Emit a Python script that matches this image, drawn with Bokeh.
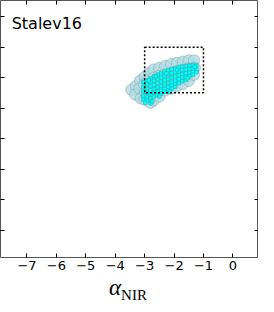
from bokeh.plotting import figure
from bokeh.models import FixedTicker, LinearAxis, Label, Div
from bokeh.layouts import column
from bokeh.embed import file_html
from bokeh.resources import INLINE

# ---- data ----
x_ticks = [-7, -6, -5, -4, -3, -2, -1, 0]
x_tick_labels = ["−7", "−6", "−5", "−4", "−3", "−2", "−1", "0"]
y_ticks = [-7, -6, -5, -4, -3, -2, -1, 0]

# outer (light blue) cloud of sources
env_x = [-3.45,
         -3.3, -3.32,
         -3.15, -3.17, -3.13,
         -3.0, -3.02, -2.98, -3.0,
         -2.85, -2.87, -2.83, -2.86, -2.8,
         -2.7, -2.68, -2.72, -2.67, -2.7,
         -2.5, -2.52, -2.48, -2.53, -2.5,
         -2.3, -2.32, -2.28, -2.31,
         -2.1, -2.12, -2.08, -2.1,
         -1.9, -1.92, -1.88, -1.91,
         -1.7, -1.72, -1.68, -1.7,
         -1.5, -1.52, -1.48, -1.5,
         -1.32, -1.3, -1.33]
env_y = [-2.4,
         -2.28, -2.55,
         -2.1, -2.36, -2.68,
         -1.98, -2.22, -2.47, -2.72,
         -1.85, -2.1, -2.38, -2.62, -2.82,
         -1.74, -2.0, -2.25, -2.5, -2.74,
         -1.68, -1.95, -2.2, -2.45, -2.62,
         -1.62, -1.9, -2.15, -2.42,
         -1.56, -1.85, -2.1, -2.36,
         -1.52, -1.8, -2.05, -2.27,
         -1.48, -1.75, -2.0, -2.2,
         -1.44, -1.7, -1.95, -2.1,
         -1.44, -1.68, -1.9]

# inner (cyan) core of sources
core_x = [-3.05, -3.05, -3.05, -3.05, -3.05,
          -2.92, -2.92, -2.92, -2.92, -2.92, -2.92,
          -2.8, -2.8, -2.8, -2.8, -2.8, -2.8, -2.8,
          -2.68, -2.68, -2.68, -2.68, -2.68, -2.68,
          -2.56, -2.56, -2.56, -2.56, -2.56, -2.56,
          -2.44, -2.44, -2.44, -2.44, -2.44, -2.44,
          -2.32, -2.32, -2.32, -2.32, -2.32, -2.32,
          -2.2, -2.2, -2.2, -2.2, -2.2, -2.2,
          -2.08, -2.08, -2.08, -2.08, -2.08, -2.08,
          -1.96, -1.96, -1.96, -1.96, -1.96, -1.96,
          -1.84, -1.84, -1.84, -1.84, -1.84,
          -1.72, -1.72, -1.72, -1.72, -1.72,
          -1.6, -1.6, -1.6, -1.6, -1.6,
          -1.48, -1.48, -1.48, -1.48,
          -1.36, -1.36, -1.36, -1.36,
          -1.24, -1.24, -1.24,
          -2.98, -2.74, -2.86, -2.5, -2.26, -1.9, -1.54, -1.3, -2.62, -2.14]
core_y = [-2.15, -2.3, -2.45, -2.6, -2.72,
          -2.1, -2.22, -2.36, -2.5, -2.62, -2.75,
          -2.02, -2.15, -2.28, -2.42, -2.55, -2.68, -2.84,
          -1.96, -2.1, -2.24, -2.38, -2.5, -2.62,
          -1.9, -2.04, -2.18, -2.32, -2.45, -2.56,
          -1.86, -2.0, -2.14, -2.28, -2.4, -2.52,
          -1.8, -1.94, -2.08, -2.22, -2.36, -2.46,
          -1.76, -1.9, -2.04, -2.18, -2.3, -2.42,
          -1.72, -1.86, -2.0, -2.14, -2.26, -2.36,
          -1.7, -1.82, -1.96, -2.1, -2.22, -2.3,
          -1.66, -1.8, -1.92, -2.05, -2.18,
          -1.64, -1.76, -1.88, -2.0, -2.12,
          -1.62, -1.74, -1.86, -1.98, -2.08,
          -1.6, -1.72, -1.84, -1.96,
          -1.58, -1.7, -1.82, -1.9,
          -1.6, -1.72, -1.82,
          -2.82, -2.78, -2.08, -2.62, -1.86, -1.74, -2.02, -1.64, -1.96, -2.46]

box_left = [-3.0]
box_right = [-1.0]
box_bottom = [-2.5]
box_top = [-1.0]

panel_name = "Stalev16"
x_label_main = "α"
x_label_sub = "NIR"

# ---- figure ----
p = figure(width=258, height=272, x_range=(-7.9, 0.87), y_range=(-7.9, 0.53),
           output_backend="svg", toolbar_location=None,
           min_border_left=0, min_border_right=0, min_border_top=0, min_border_bottom=0)
p.grid.visible = False
p.outline_line_color = "#555555"
p.outline_line_width = 1
p.background_fill_color = "white"
p.border_fill_color = "white"

def style_axis(ax, ticks, show_labels):
    ax.ticker = FixedTicker(ticks=ticks)
    ax.major_tick_in = 4
    ax.major_tick_out = 0
    ax.minor_tick_in = 0
    ax.minor_tick_out = 0
    ax.major_tick_line_color = "black"
    ax.axis_line_color = None
    if show_labels:
        ax.major_label_overrides = {t: l for t, l in zip(x_ticks, x_tick_labels)}
        ax.major_label_text_font = "DejaVu Sans"
        ax.major_label_text_font_size = "13px"
        ax.major_label_text_color = "black"
        ax.major_label_standoff = 3
    else:
        ax.major_label_overrides = {t: "" for t in ticks}
        ax.major_label_text_font_size = "1px"
        ax.major_label_standoff = 0

style_axis(p.xaxis[0], x_ticks, True)
style_axis(p.yaxis[0], y_ticks, False)
top_ax = LinearAxis()
right_ax = LinearAxis()
style_axis(top_ax, x_ticks, False)
style_axis(right_ax, y_ticks, False)
p.add_layout(top_ax, "above")
p.add_layout(right_ax, "right")

# ---- glyphs ----
p.scatter(env_x, env_y, marker="circle", size=11.5, fill_color="#b0dce3", fill_alpha=0.8,
          line_color="#7f9ea4", line_width=0.6, line_alpha=0.8)
p.scatter(core_x, core_y, marker="square", size=3.5, fill_color="#00ffff",
          line_color="#20a8a8", line_width=0.5)
p.quad(left=box_left, right=box_right, bottom=box_bottom, top=box_top,
       fill_color=None, line_color="black", line_width=1.5, line_dash="2 2")

# ---- texts ----
p.add_layout(Label(x=-7.52, y=-0.22, text=panel_name, text_font="DejaVu Sans",
                   text_font_size="16px", text_color="black", text_baseline="middle"))

xlabel = Div(
    text=(f'<span style="font-family:\'Liberation Serif\';font-style:italic;'
          f'font-size:23px;line-height:22px">{x_label_main}</span>'
          f'<span style="font-family:\'Liberation Serif\';font-size:15px;'
          f'position:relative;top:5px">{x_label_sub}</span>'),
    width=258, height=24,
    styles={"padding-left": "104px", "line-height": "22px", "white-space": "nowrap"},
)

layout = column(p, xlabel, spacing=0)

open("out.html", "w").write(file_html(layout, INLINE))
